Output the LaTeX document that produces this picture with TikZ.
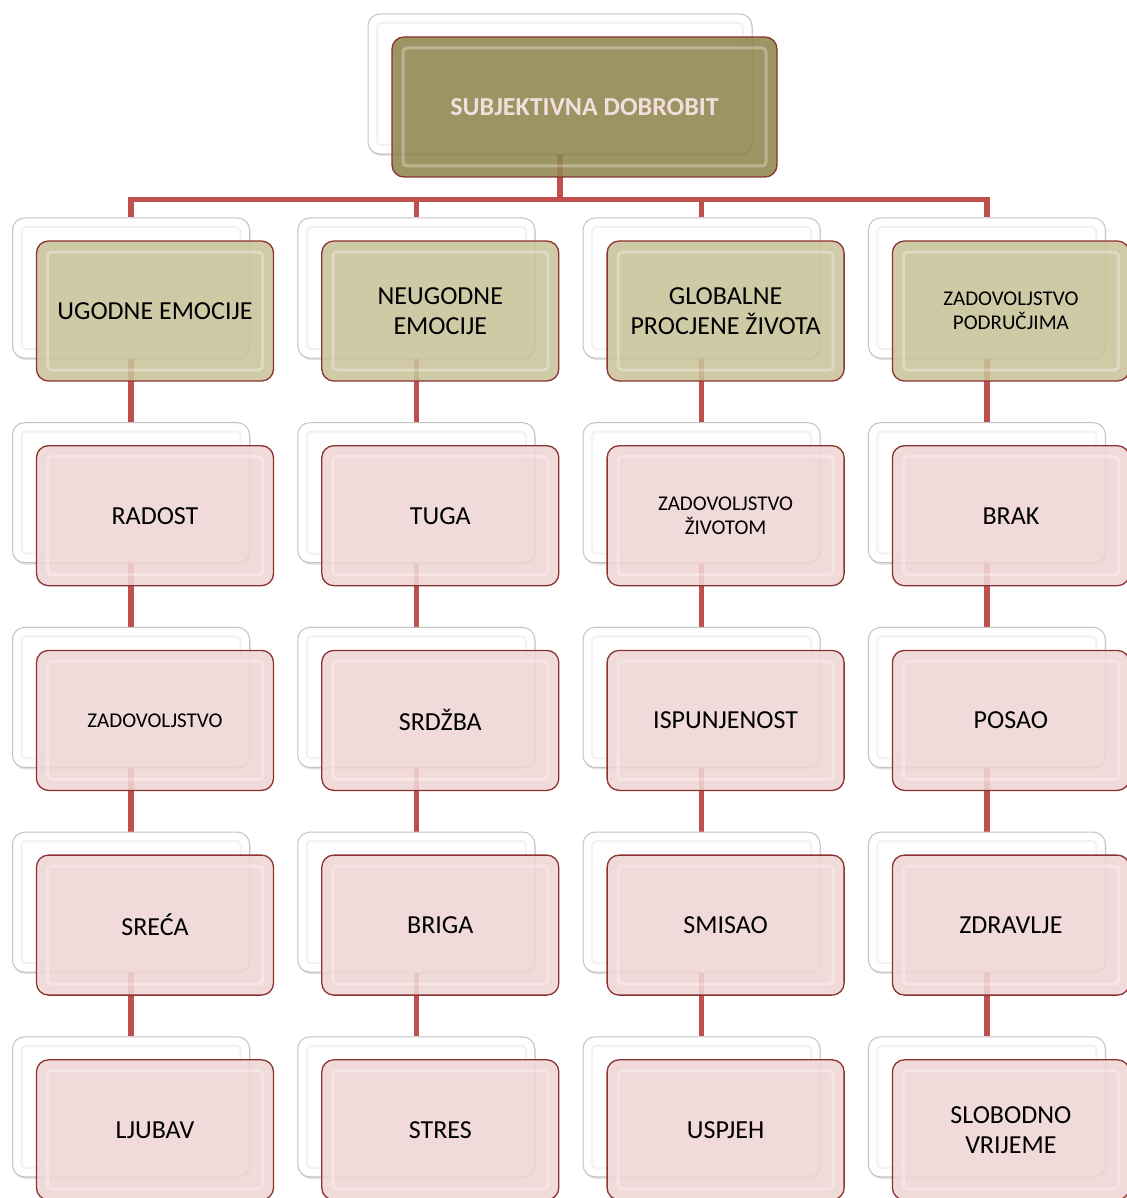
\documentclass[tikz,border=0pt]{standalone}
\usepackage{fontspec}
\setmainfont{Carlito}
\usepackage{tikz}
\usetikzlibrary{positioning, backgrounds, calc, shadows}
\definecolor{linkred}{RGB}{192,80,77}
\definecolor{edgered}{RGB}{140,50,48}
\definecolor{olive}{RGB}{144,134,78}
\definecolor{khaki}{RGB}{201,195,154}
\definecolor{rose}{RGB}{239,214,213}
\definecolor{rosetext}{RGB}{242,222,220}
\definecolor{shadegray}{RGB}{195,195,195}
\newcommand{\smalltxt}{\fontsize{21}{24}\selectfont}

\tikzset{
  backbox/.style={draw=shadegray, fill=white, line width=1pt,
    rounded corners=12pt, minimum width=237pt, minimum height=140pt,
    drop shadow={opacity=.25, shadow xshift=1pt, shadow yshift=-2pt},
    path picture={
      \draw[gray!10, line width=2pt, rounded corners=4pt]
        ([shift={(9pt,-9pt)}]path picture bounding box.north west) rectangle
        ([shift={(-9pt,9pt)}]path picture bounding box.south east);
    }},
  frontbox/.style={draw=edgered, line width=1.3pt, rounded corners=12pt,
    minimum width=237pt, minimum height=140pt, fill opacity=.88,
    text opacity=1, align=center, font=\fontsize{26}{30}\selectfont,
    path picture={
      \draw[white, draw opacity=.3, line width=3pt, rounded corners=4pt]
        ([shift={(11pt,-11pt)}]path picture bounding box.north west) rectangle
        ([shift={(-11pt,11pt)}]path picture bounding box.south east);
    }},
  topbox/.style={frontbox, fill=olive, minimum width=385pt, text=rosetext,
    font=\fontsize{26}{30}\selectfont\bfseries},
  catbox/.style={frontbox, fill=khaki},
  itembox/.style={frontbox, fill=rose},
  small/.style={font=\smalltxt},
  plain/.style={},
  link/.style={draw=linkred, line width=5.5pt},
}

\begin{document}
\begin{tikzpicture}[x=1pt, y=-1pt]
  \useasboundingbox (0,0) rectangle (1126,1198);

  \node[backbox, minimum width=384pt] (b-top) at (560,84) {};
  \node[topbox] (top) at (584.5,107) {SUBJEKTIVNA DOBROBIT};

  % second level
  \foreach \sty/\head [count=\c from 0] in {plain/UGODNE EMOCIJE,
      plain/{NEUGODNE\\EMOCIJE}, plain/{GLOBALNE\\PROCJENE ŽIVOTA},
      small/{ZADOVOLJSTVO\\PODRUČJIMA}} {
    \node[backbox] (b-\c-0) at ({131+285.3*\c},288) {};
    \node[catbox, \sty] (f-\c-0) at ({155+285.3*\c},311) {\head};
  }

  % items
  \foreach \c/\r/\sty/\txt in {0/1/plain/RADOST, 0/2/small/ZADOVOLJSTVO,
      0/3/plain/SREĆA, 0/4/plain/LJUBAV,
      1/1/plain/TUGA, 1/2/plain/SRDŽBA, 1/3/plain/BRIGA, 1/4/plain/STRES,
      2/1/small/{ZADOVOLJSTVO\\ŽIVOTOM}, 2/2/plain/ISPUNJENOST,
      2/3/plain/SMISAO, 2/4/plain/USPJEH,
      3/1/plain/BRAK, 3/2/plain/POSAO, 3/3/plain/ZDRAVLJE,
      3/4/plain/{SLOBODNO\\VRIJEME}} {
    \node[backbox] (b-\c-\r) at ({131+285.3*\c},{288+204.7*\r}) {};
    \node[itembox, \sty] (f-\c-\r) at ({155+285.3*\c},{311+204.7*\r}) {\txt};
  }

  \begin{pgfonlayer}{background}
    \coordinate (bus) at ([yshift=-45pt]b-top.south);
    \draw[link] (b-top.south) -- (bus);
    \foreach \c in {0,...,3} {
      \draw[link] (b-\c-0.north) |- (bus);
      \foreach \r [evaluate=\r as \s using int(\r+1)] in {0,...,3}
        \draw[link] (b-\c-\r.south) -- (b-\c-\s.north);
    }
  \end{pgfonlayer}
\end{tikzpicture}
\end{document}
